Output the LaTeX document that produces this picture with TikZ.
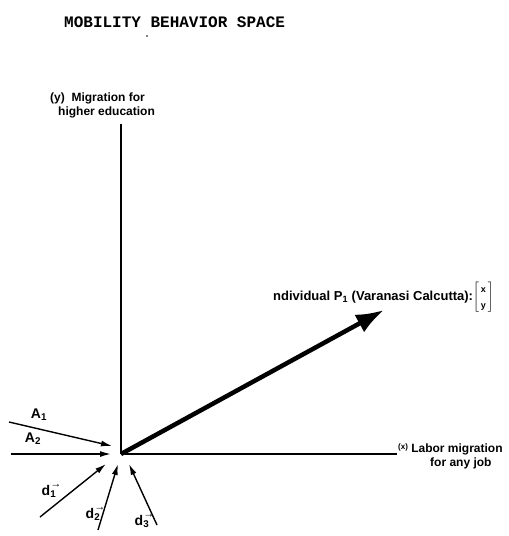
\documentclass[tikz,border=0pt]{standalone}
\usepackage{fontspec}
\setmainfont{Liberation Sans}
\newfontfamily\typewriter{Liberation Mono}
\usetikzlibrary{arrows.meta}

\tikzset{
  axisline/.style={line width=1.5pt},
  move/.style={line width=1.4pt,-{Latex[length=11pt,width=6pt]}},
  lbl/.style={font=\bfseries\fontsize{12}{14}\selectfont, inner sep=0pt},
  tag/.style={font=\bfseries\fontsize{14}{16}\selectfont, inner sep=0pt},
}
\newcommand{\dvec}[1]{d\rlap{\raisebox{1.15ex}{\fontsize{11}{11}\selectfont →}}\textsubscript{#1}}

\begin{document}
\begin{tikzpicture}[x=1pt,y=-1pt]
  \useasboundingbox (0,0) rectangle (509,536);

  \coordinate (O) at (121,454);
  \coordinate (ytop) at (121,124);
  \coordinate (xend) at (397,454);
  \coordinate (ptip) at (384,310);

%title:
  \node[anchor=west, inner sep=0pt, font=\typewriter\bfseries\fontsize{16}{18}\selectfont] (title) at (64,22) {MOBILITY BEHAVIOR SPACE};
  \fill (147,36) circle (0.9);

%axes:
  \draw[axisline] (O) -- (ytop);
  \draw[axisline] (O) -- (xend);
  \node[lbl, anchor=north west, align=left] (ylabel) at (50,93) {(y)\ \ Migration for\\\hspace{8pt}higher education};
  \node[lbl, anchor=north west, align=left] (xlabel) at (398,443) {\raisebox{3pt}{\footnotesize(x)} Labor migration\\\hspace{32pt}for any job};

%individual:
  \draw[line width=4.5pt,-{Latex[length=28pt,width=20pt]}] (O) -- (ptip);
  \node[lbl, font=\bfseries\fontsize{13}{15}\selectfont, anchor=west] (plabel) at (273,297) {ndividual P\textsubscript{1} (Varanasi Calcutta):$\left[\begin{array}{@{\,}c@{\,}}\mbox{\small\bfseries x}\\[1pt] \mbox{\small\bfseries y}\end{array}\right]$};

%incoming moves:
  \coordinate (a1s) at (9,422);   \coordinate (a1e) at (112,446);
  \coordinate (a2s) at (11,454);  \coordinate (a2e) at (111,454);
  \coordinate (d1s) at (40,517);  \coordinate (d1e) at (106,464);
  \coordinate (d2s) at (98,530);  \coordinate (d2e) at (118,464);
  \coordinate (d3s) at (157,525); \coordinate (d3e) at (129,464);
  \draw[move] (a1s) -- (a1e);
  \draw[move] (a2s) -- (a2e);
  \draw[move] (d1s) -- (d1e);
  \draw[move] (d2s) -- (d2e);
  \draw[move] (d3s) -- (d3e);

  \node[tag] (A1) at (39,415) {A\textsubscript{1}};
  \node[tag] (A2) at (33,439) {A\textsubscript{2}};
  \node[tag] (d1) at (49,491) {\dvec{1}};
  \node[tag] (d2) at (93,514) {\dvec{2}};
  \node[tag] (d3) at (142,521) {\dvec{3}};
\end{tikzpicture}
\end{document}
